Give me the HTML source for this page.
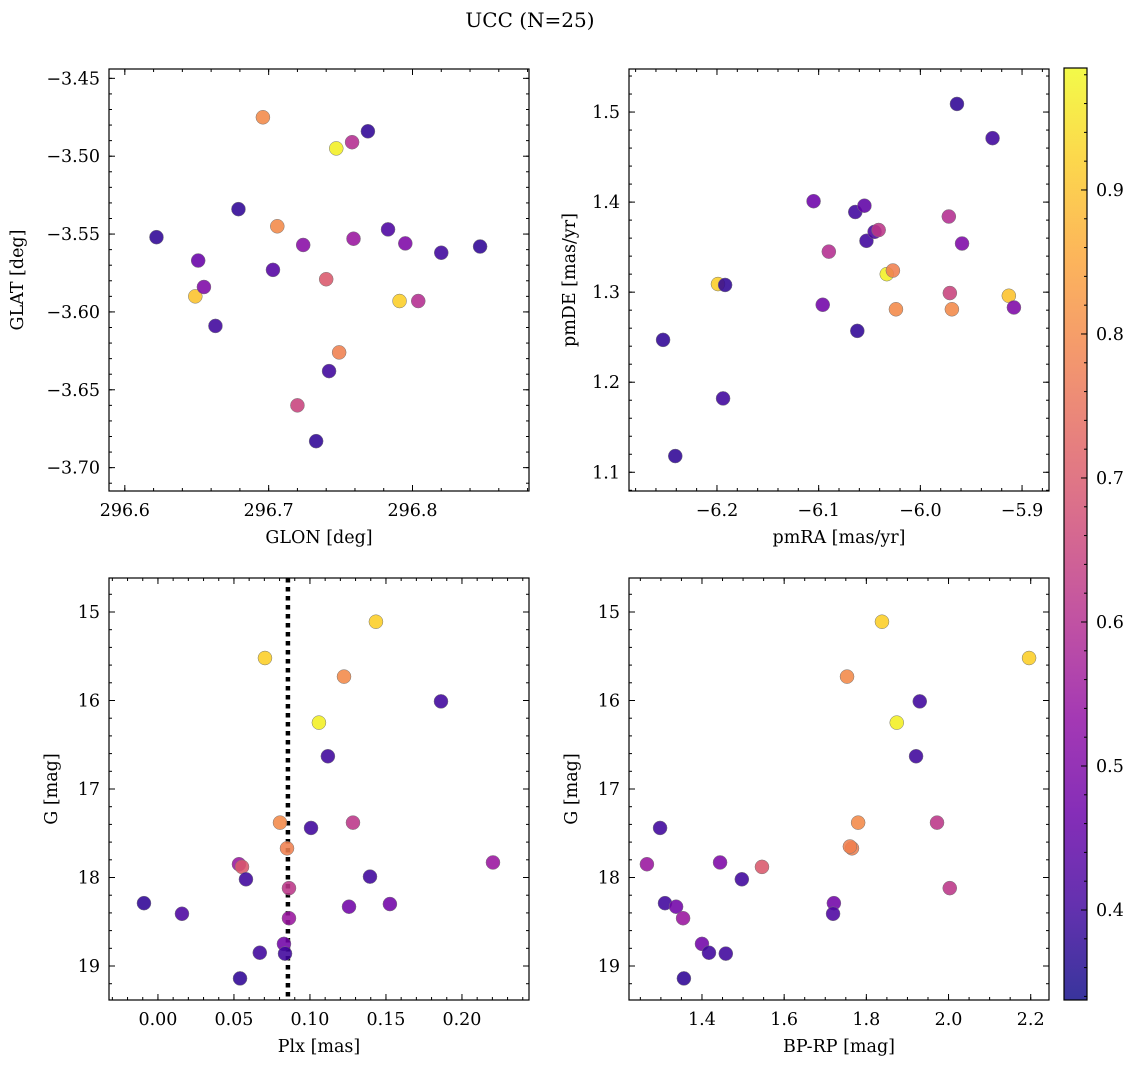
<!DOCTYPE html>
<html><head><meta charset="utf-8">
<style>
html,body{margin:0;padding:0;background:#fff;}
svg{display:block;font-family:"DejaVu Serif","Liberation Serif",serif;}
</style></head>
<body>
<svg id="fig" width="1136" height="1068" viewBox="0 0 1136 1068" xmlns="http://www.w3.org/2000/svg">
<text x="530" y="27" text-anchor="middle" font-size="20">UCC (N=25)</text>
</svg>
<script>
// ---- data ----
const glon=[296.622,296.649,296.655,296.651,296.663,296.679,296.696,296.703,296.706,296.724,296.720,296.733,296.740,296.742,296.747,296.749,296.758,296.759,296.769,296.783,296.791,296.795,296.804,296.820,296.847];
const glat=[-3.552,-3.590,-3.584,-3.567,-3.609,-3.534,-3.475,-3.573,-3.545,-3.557,-3.660,-3.683,-3.579,-3.638,-3.495,-3.626,-3.491,-3.553,-3.484,-3.547,-3.593,-3.556,-3.593,-3.562,-3.558];
const prob1=[0.38,0.90,0.50,0.46,0.40,0.38,0.80,0.43,0.80,0.52,0.65,0.38,0.70,0.40,0.97,0.78,0.60,0.55,0.38,0.42,0.92,0.50,0.60,0.40,0.38];
const pmra=[-6.253,-6.241,-6.199,-6.192,-6.194,-6.105,-6.096,-6.090,-6.064,-6.062,-6.055,-6.053,-6.045,-6.041,-6.033,-6.027,-6.024,-5.972,-5.971,-5.969,-5.964,-5.959,-5.929,-5.913,-5.908];
const pmde=[1.247,1.118,1.309,1.308,1.182,1.401,1.286,1.345,1.389,1.257,1.396,1.357,1.367,1.369,1.320,1.324,1.281,1.384,1.299,1.281,1.509,1.354,1.471,1.296,1.283];
const prob2=[0.38,0.38,0.92,0.38,0.40,0.47,0.48,0.60,0.40,0.38,0.45,0.40,0.42,0.62,0.97,0.78,0.80,0.60,0.65,0.80,0.38,0.50,0.40,0.90,0.50];
const plx=[-0.0092,0.0158,0.0533,0.0553,0.0579,0.054,0.067,0.0704,0.0803,0.0829,0.0836,0.0849,0.0862,0.0862,0.1007,0.1059,0.1118,0.1224,0.1257,0.1283,0.1395,0.1434,0.1526,0.1862,0.2204];
const gmag3=[18.29,18.41,17.85,17.88,18.02,19.14,18.85,15.52,17.38,18.75,18.86,17.67,18.12,18.46,17.44,16.25,16.63,15.73,18.33,17.38,17.99,15.11,18.30,16.01,17.83];
const prob3=[0.38,0.42,0.55,0.70,0.40,0.38,0.40,0.92,0.80,0.48,0.40,0.78,0.62,0.55,0.40,0.97,0.40,0.80,0.48,0.62,0.40,0.92,0.48,0.40,0.55];
const bprp=[1.266,1.298,1.310,1.337,1.354,1.356,1.400,1.417,1.444,1.458,1.497,1.546,1.721,1.719,1.753,1.765,1.780,1.838,1.874,1.921,1.930,1.972,2.003,2.196,1.760];
const gmag4=[17.85,17.44,18.29,18.33,18.46,19.14,18.75,18.85,17.83,18.86,18.02,17.88,18.29,18.41,15.73,17.67,17.38,15.11,16.25,16.63,16.01,17.38,18.12,15.52,17.65];
const prob4=[0.55,0.40,0.40,0.48,0.55,0.38,0.48,0.40,0.50,0.40,0.40,0.70,0.48,0.42,0.80,0.78,0.80,0.92,0.97,0.40,0.40,0.62,0.62,0.92,0.78];
const plxLine=0.0855;
const cbTicks=[0.4,0.5,0.6,0.7,0.8,0.9];
const cmin=0.3375,cmax=0.9847;

const FS=17.5;
const NS="http://www.w3.org/2000/svg";
const svg=document.getElementById('fig');
function mk(tag,attrs,parent){const e=document.createElementNS(NS,tag);for(const k in attrs)e.setAttribute(k,attrs[k]);(parent||svg).appendChild(e);return e;}
const stops=[[13,8,135],[65,4,157],[106,0,168],[143,13,164],[177,42,144],[204,71,120],[225,100,98],[242,132,75],[252,166,54],[252,206,37],[240,249,33]];
function plasma(t){t=Math.max(0,Math.min(1,t))*10;const i=Math.min(9,Math.floor(t)),f=t-i;const a=stops[i],b=stops[i+1];return 'rgb('+[0,1,2].map(k=>Math.round(a[k]+(b[k]-a[k])*f)).join(',')+')';}
function col(p){return plasma((p-cmin)/(cmax-cmin));}
function fmt(v,d){const s=Math.abs(v).toFixed(d);return (v<-1e-9?'\u2212':'')+s;}

function panel(o){
  const g=mk('g',{});
  
  
  const X=v=>o.x0+(v-o.xmin)/(o.xmax-o.xmin)*(o.x1-o.x0);
  const Y=o.inv?(v=>o.y0+(v-o.ymin)/(o.ymax-o.ymin)*(o.y1-o.y0)):(v=>o.y1-(v-o.ymin)/(o.ymax-o.ymin)*(o.y1-o.y0));
  const tg=mk('g',{stroke:'#000','stroke-width':1},g);
  for(let v=Math.ceil(o.xmin/o.xmn-1e-6)*o.xmn;v<=o.xmax+1e-9;v+=o.xmn){const px=X(v);mk('line',{x1:px,x2:px,y1:o.y1,y2:o.y1-3},tg);mk('line',{x1:px,x2:px,y1:o.y0,y2:o.y0+3},tg);}
  const yl=Math.min(o.ymin,o.ymax),yh=Math.max(o.ymin,o.ymax);
  for(let v=Math.ceil(yl/o.ymn-1e-6)*o.ymn;v<=yh+1e-9;v+=o.ymn){const py=Y(v);mk('line',{x1:o.x0,x2:o.x0+3,y1:py,y2:py},tg);mk('line',{x1:o.x1,x2:o.x1-3,y1:py,y2:py},tg);}
  o.xt.forEach(v=>{const px=X(v);mk('line',{x1:px,x2:px,y1:o.y1,y2:o.y1-6},tg);mk('line',{x1:px,x2:px,y1:o.y0,y2:o.y0+6},tg);
    const t=mk('text',{x:px,y:o.y1+25,'text-anchor':'middle','font-size':FS},g);t.textContent=fmt(v,o.xd);
    });
  o.yt.forEach(v=>{const py=Y(v);mk('line',{x1:o.x0,x2:o.x0+6,y1:py,y2:py},tg);mk('line',{x1:o.x1,x2:o.x1-6,y1:py,y2:py},tg);
    const t=mk('text',{x:o.x0-9,y:py+6,'text-anchor':'end','font-size':FS},g);t.textContent=fmt(v,o.yd);
    });
  if(o.vline!==undefined){const l=mk('line',{x1:X(o.vline),x2:X(o.vline),y1:o.y0,y2:o.y1,stroke:'#000','stroke-width':4.5,'stroke-dasharray':'4.5 4.5'},g);
    }
  o.xs.forEach((v,i)=>{const c=mk('circle',{cx:X(v),cy:Y(o.ys[i]),r:7,fill:col(o.cs[i]),'fill-opacity':0.88,stroke:'#777','stroke-width':0.5},g);
    });
  const fr=mk('rect',{x:o.x0,y:o.y0,width:o.x1-o.x0,height:o.y1-o.y0,fill:'none',stroke:'#000','stroke-width':1.2},g);
  
  const xl=mk('text',{x:(o.x0+o.x1)/2,y:o.y1+52,'text-anchor':'middle','font-size':FS},g);xl.textContent=o.xlab;
  
  const cy=(o.y0+o.y1)/2;const ylb=mk('text',{x:o.ylx,y:cy,'text-anchor':'middle','font-size':FS,transform:'rotate(-90 '+o.ylx+' '+cy+')'},g);ylb.textContent=o.ylab;
  
}
panel({name:'glon-glat-panel',x0:109,x1:529,y0:69,y1:491,xmin:296.589,xmax:296.881,ymin:-3.715,ymax:-3.444,xt:[296.6,296.7,296.8],xd:1,yt:[-3.70,-3.65,-3.60,-3.55,-3.50,-3.45],yd:2,xmn:0.02,ymn:0.01,xs:glon,ys:glat,cs:prob1,xlab:'GLON [deg]',ylab:'GLAT [deg]',ylx:23});
panel({name:'pm-panel',x0:629,x1:1049,y0:69,y1:491,xmin:-6.2865,xmax:-5.8735,ymin:1.0792,ymax:1.5478,xt:[-6.2,-6.1,-6.0,-5.9],xd:1,yt:[1.1,1.2,1.3,1.4,1.5],yd:1,xmn:0.02,ymn:0.02,xs:pmra,ys:pmde,cs:prob2,xlab:'pmRA [mas/yr]',ylab:'pmDE [mas/yr]',ylx:575});
panel({name:'plx-g-panel',x0:109,x1:529,y0:578,y1:1000,xmin:-0.0322,xmax:0.2441,ymin:14.616,ymax:19.384,inv:true,xt:[0,0.05,0.10,0.15,0.20],xd:2,yt:[15,16,17,18,19],yd:0,xmn:0.01,ymn:0.2,xs:plx,ys:gmag3,cs:prob3,xlab:'Plx [mas]',ylab:'G [mag]',ylx:57,vline:plxLine});
panel({name:'color-magnitude-panel',x0:629,x1:1049,y0:578,y1:1000,xmin:1.2224,xmax:2.2445,ymin:14.616,ymax:19.384,inv:true,xt:[1.4,1.6,1.8,2.0,2.2],xd:1,yt:[15,16,17,18,19],yd:0,xmn:0.05,ymn:0.2,xs:bprp,ys:gmag4,cs:prob4,xlab:'BP-RP [mag]',ylab:'G [mag]',ylx:577});

const cb=mk('g',{});


const defs=mk('defs',{},cb);const lg=mk('linearGradient',{id:'cbg',x1:0,y1:1,x2:0,y2:0},defs);
for(let i=0;i<=20;i++){mk('stop',{offset:i/20,'stop-color':plasma(i/20),'stop-opacity':0.82},lg);}
const cx0=1064,cx1=1087,cy0=68,cy1=1000;
mk('rect',{x:cx0,y:cy0,width:cx1-cx0,height:cy1-cy0,fill:'url(#cbg)'},cb);
const CY=v=>cy1-(v-cmin)/(cmax-cmin)*(cy1-cy0);
for(let v=0.34;v<=cmax;v+=0.02){const py=CY(v);mk('line',{x1:cx1,x2:cx1-3,y1:py,y2:py,stroke:'#000'},cb);}
cbTicks.forEach(v=>{const py=CY(v);mk('line',{x1:cx1,x2:cx1-6,y1:py,y2:py,stroke:'#000'},cb);
  const t=mk('text',{x:cx1+9,y:py+6,'font-size':FS},cb);t.textContent=v.toFixed(1);
  });
mk('rect',{x:cx0,y:cy0,width:cx1-cx0,height:cy1-cy0,fill:'none',stroke:'#000','stroke-width':1.2},cb);
</script>
</body></html>
